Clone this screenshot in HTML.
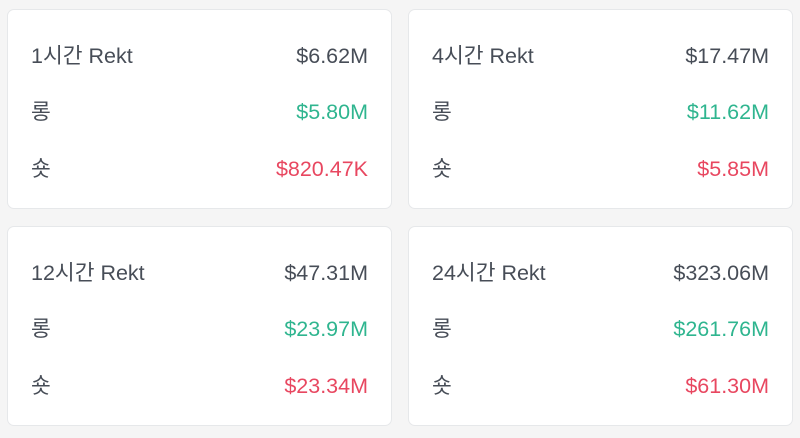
<!DOCTYPE html>
<html><head><meta charset="utf-8"><style>
body{margin:0;width:800px;height:438px;background:#f5f5f5;font-family:"Liberation Sans","Noto Sans CJK KR",sans-serif;overflow:hidden;position:relative}
.c{position:absolute;width:385px;height:200px;background:#fff;border:1px solid #e6e8ea;border-radius:7px;box-sizing:border-box}
.r{position:absolute;left:23px;right:23px;display:flex;justify-content:space-between;font-size:21.5px;line-height:24px;color:#474d57}
.g{color:#2fb58f}.d{color:#e84760}
</style></head><body>
<div class="c" style="left:7px;top:9px">
<div class="r" style="top:34px"><span>1시간 Rekt</span><span>$6.62M</span></div>
<div class="r" style="top:90px"><span>롱</span><span class="g">$5.80M</span></div>
<div class="r" style="top:147px"><span>숏</span><span class="d">$820.47K</span></div></div>
<div class="c" style="left:408px;top:9px">
<div class="r" style="top:34px"><span>4시간 Rekt</span><span>$17.47M</span></div>
<div class="r" style="top:90px"><span>롱</span><span class="g">$11.62M</span></div>
<div class="r" style="top:147px"><span>숏</span><span class="d">$5.85M</span></div></div>
<div class="c" style="left:7px;top:226px">
<div class="r" style="top:34px"><span>12시간 Rekt</span><span>$47.31M</span></div>
<div class="r" style="top:90px"><span>롱</span><span class="g">$23.97M</span></div>
<div class="r" style="top:147px"><span>숏</span><span class="d">$23.34M</span></div></div>
<div class="c" style="left:408px;top:226px">
<div class="r" style="top:34px"><span>24시간 Rekt</span><span>$323.06M</span></div>
<div class="r" style="top:90px"><span>롱</span><span class="g">$261.76M</span></div>
<div class="r" style="top:147px"><span>숏</span><span class="d">$61.30M</span></div></div>
</body></html>
